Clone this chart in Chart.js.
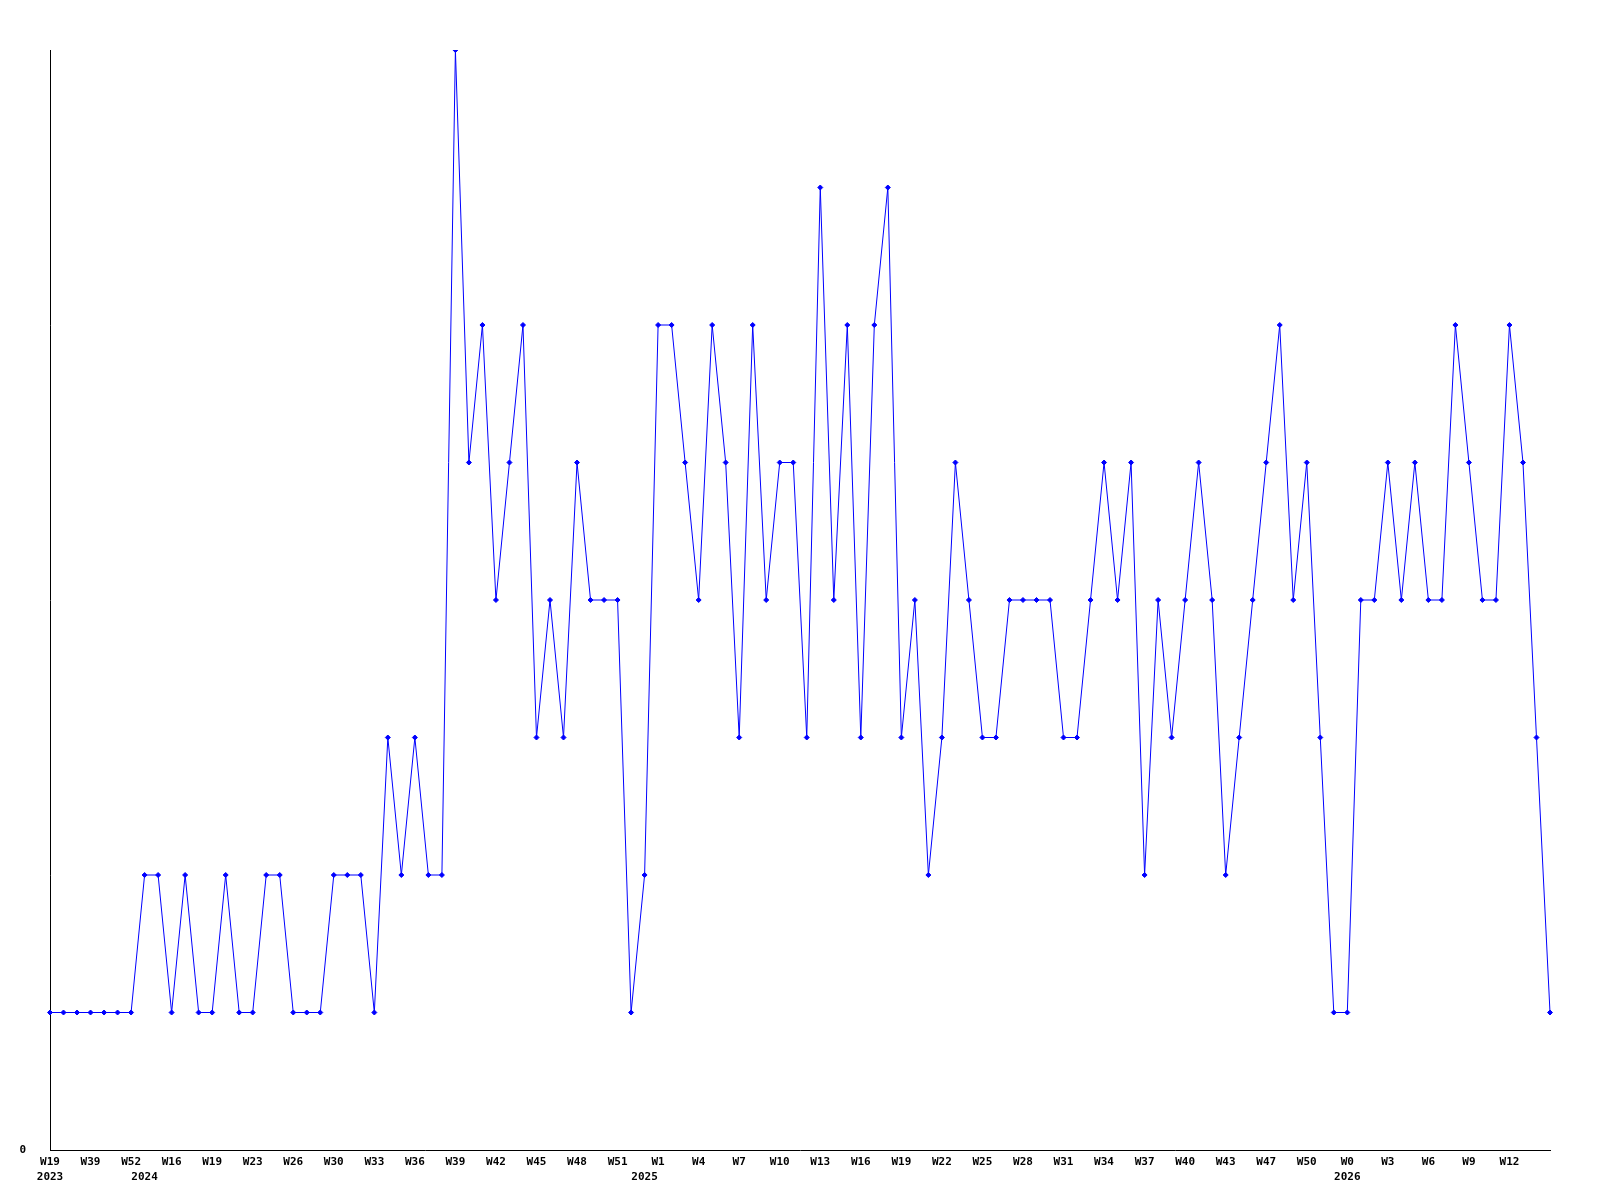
<!DOCTYPE html>
<html>
<head>
<meta charset="utf-8">
<script src="https://cdn.jsdelivr.net/npm/chart.js@4/dist/chart.umd.min.js"></script>
<style>
  html, body { margin: 0; padding: 0; background: #ffffff; }
  #wrap { width: 1600px; height: 1200px; }
</style>
</head>
<body>
<div id="wrap"><canvas id="c" width="1600" height="1200"></canvas></div>
<script>
// Tick labels shown every 3rd point on the x axis
const tickLabels = ['W19','W39','W52','W16','W19','W23','W26','W30','W33','W36','W39','W42',
  'W45','W48','W51','W1','W4','W7','W10','W13','W16','W19','W22','W25','W28','W31','W34',
  'W37','W40','W43','W47','W50','W0','W3','W6','W9','W12'];
// Year labels: [point index, year]
const yearLabels = [[0,'2023'],[7,'2024'],[44,'2025'],[96,'2026']];
// Series values (one per week)
const values = [
  1,1,1,1,1,1,1,2,2,1,2,1,1,2,1,1,2,2,1,1,1,2,2,2,1,3,2,3,2,2,
  8,5,6,4,5,6,3,4,3,5,4,4,4,1,2,6,6,5,4,6,5,3,6,4,5,5,3,7,4,6,
  3,6,7,3,4,2,3,5,4,3,3,4,4,4,4,3,3,4,5,4,5,2,4,3,4,5,4,2,3,4,
  5,6,4,5,3,1,1,4,4,5,4,5,4,4,6,5,4,4,6,5,3,1
];
const yTickLabels = ['0'];

// Build category labels from the tick and year arrays
const categories = values.map((v, i) => {
  const week = (i % 3 === 0 && tickLabels[i / 3] !== undefined) ? tickLabels[i / 3] : '';
  const yr = yearLabels.find(y => y[0] === i);
  return yr ? [week, yr[1]] : week;
});

const FONT = { family: '"DejaVu Sans Mono", monospace', size: 11, weight: 'bold', lineHeight: 15 / 11 };

new Chart(document.getElementById('c'), {
  type: 'line',
  data: {
    labels: categories,
    datasets: [{
      data: values,
      borderColor: '#0000ff',
      backgroundColor: '#0000ff',
      borderWidth: 1,
      tension: 0,
      fill: false,
      pointStyle: 'rectRot',
      pointRadius: 2.5,
      pointBorderWidth: 1,
      pointBackgroundColor: '#0000ff',
      pointBorderColor: '#0000ff'
    }]
  },
  options: {
    responsive: false,
    animation: false,
    devicePixelRatio: 1,
    layout: { padding: { top: 50, right: 50, left: 0, bottom: 0 } },
    plugins: { legend: { display: false }, tooltip: { enabled: false }, title: { display: false } },
    scales: {
      x: {
        type: 'category',
        offset: false,
        grid: { display: false, drawTicks: false },
        border: { display: true, color: '#000000', width: 1 },
        ticks: {
          autoSkip: false,
          maxRotation: 0,
          minRotation: 0,
          padding: 5,
          color: '#000000',
          font: FONT
        },
        afterFit: (s) => { s.height = 50; }
      },
      y: {
        min: 0,
        max: 8,
        grid: { display: false, drawTicks: false },
        border: { display: true, color: '#000000', width: 1 },
        ticks: {
          stepSize: 1,
          padding: 24,
          color: '#000000',
          font: FONT,
          callback: (v) => (v === 0 ? yTickLabels[0] : '')
        },
        afterFit: (s) => { s.width = 50; }
      }
    }
  }
});
</script>
</body>
</html>
